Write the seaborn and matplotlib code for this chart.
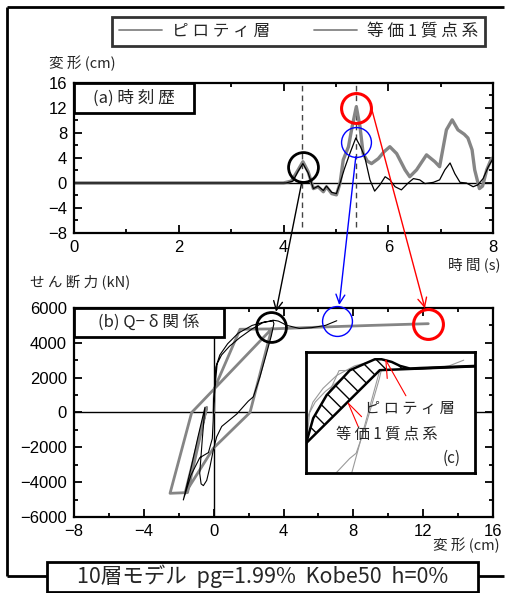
import numpy as np
import matplotlib
matplotlib.use("Agg")
import matplotlib.pyplot as plt
import seaborn as sns
from matplotlib.patches import Rectangle, ConnectionPatch
from matplotlib.lines import Line2D
from matplotlib.ticker import MultipleLocator

# ---------------- data ----------------
# (a) time history  [s], [cm]
time_sdof = [0, 4.0, 4.15, 4.28, 4.37, 4.47, 4.57, 4.66, 4.76, 4.82, 4.92, 5.01, 5.08, 5.14,
             5.24, 5.31, 5.39, 5.46, 5.52, 5.6, 5.68, 5.81, 5.92, 6.03, 6.16, 6.32, 6.41,
             6.54, 6.73, 6.89, 6.98, 7.11, 7.22, 7.33, 7.45, 7.52, 7.6, 7.65, 7.74, 7.8,
             7.88, 7.97, 8.0]
disp_sdof = [0, 0, 0.3, 2.1, 3.4, 1.8, -0.9, -0.6, -1.4, -0.6, -1.7, -1.9, 0.0, 3.7,
             5.8, 9.0, 12.2, 9.0, 4.7, 3.5, 3.1, 3.9, 5.0, 5.8, 4.7, 2.1, 1.0,
             2.1, 4.5, 3.4, 2.6, 8.5, 10.1, 8.5, 7.8, 7.2, 5.3, 2.1, -0.9, -0.5,
             2.1, 3.9, 4.0]
time_pil = [0, 4.05, 4.18, 4.28, 4.37, 4.47, 4.57, 4.66, 4.76, 4.82, 4.92, 5.01, 5.08,
            5.16, 5.27, 5.38, 5.47, 5.55, 5.65, 5.74, 5.84, 5.94, 6.03, 6.13, 6.25, 6.38,
            6.48, 6.6, 6.7, 6.86, 6.98, 7.08, 7.18, 7.27, 7.37, 7.49, 7.62, 7.71, 7.81,
            7.91, 8.0]
disp_pil = [0, 0, 0.3, 1.9, 3.1, 1.6, -0.9, -0.5, -1.2, -0.5, -1.5, -1.7, 0.0,
            2.2, 4.8, 7.2, 5.8, 4.2, 0.5, -1.3, -0.3, 1.0, 0.5, -0.6, -1.1, 0.0,
            0.7, 0.5, -0.1, 0.1, 0.5, 2.1, 3.2, 1.5, 0.1, 0.0, -0.6, -0.3, 0.7,
            2.6, 3.9]
peak_times = [4.36, 5.39]

# (b) Q-delta  [cm], [kN]
hyst_sdof_d = [0, 0.05, 1.51, 3.32, 2.08, -0.02, -1.64, -0.40, -1.50, -2.50, -1.26, 3.32, 6.0, 9.0, 12.29]
hyst_sdof_q = [0, 1400, 4780, 4800, 0, -2055, -4640, 300, -4600, -4640, 0, 4800, 4900, 5000, 5100]
hyst_pil_d = [0, 0.03, 0.12, 0.35, 0.8, 1.4, 2.2, 2.9, 3.4, 3.45, 3.3, 3.0, 2.65, 2.27, 1.98,
              1.32, 0.46, 0.17, -0.02, -0.21, -0.4, -0.59, -0.72, -0.8, -0.65, -0.5, -0.9,
              -1.3, -1.74, -1.3, -0.8, -0.3, -0.08, -0.03, 0.0, 0.08, 0.2, 0.45, 0.9, 1.5,
              2.2, 2.8, 3.4, 3.7, 4.2, 4.9, 5.6, 6.4, 7.05]
hyst_pil_q = [0, 1200, 2600, 3300, 3950, 4550, 5000, 5200, 5250, 5100, 4400, 3300, 2050, 900, 650,
              -90, -800, -1400, -2150, -3100, -3900, -4200, -4100, -3500, -1500, 300, -1400,
              -3200, -5024, -3600, -2600, -2300, -1500, -500, 500, 1500, 2800, 3300, 3800, 4300,
              4800, 5150, 5300, 5250, 5000, 4830, 4870, 5000, 5270]

# (c) inset highlighted curves
inset_sdof_d = [-1.26, 3.32, 7.6]
inset_sdof_q = [0, 4800, 4980]
inset_pil_d = [0.07, 0.36, 0.96, 1.99, 3.10, 3.40, 3.85, 4.22, 4.66, 5.1, 7.6]
inset_pil_q = [1449, 2541, 3630, 4795, 5311, 5311, 5186, 5000, 4875, 4900, 5000]
hatch_end = 5.1

# circles marking the peaks
circ_a = {"black": (4.37, 2.6), "blue": (5.39, 6.6), "red": (5.38, 12.0)}
circ_b = {"black": (3.28, 4926), "blue": (7.05, 5254), "red": (12.29, 5064)}
circ_lw = {"black": 2.0, "blue": 1.0, "red": 2.2}
# connecting arrows: start in (a) coords, end in (b) coords
arrows = {"black": ((4.35, 0.2), (3.57, 5788)),
          "blue": ((5.38, 4.2), (7.19, 6172)),
          "red": ((5.68, 11.95), (12.10, 5983))}

legend_labels = ["ピ ロ テ ィ 層", "等 価 1 質 点 系"]
title_text = "10層モデル  pg=1.99%  Kobe50  h=0%"

# ---------------- style ----------------
sns.set_style("ticks")
plt.rcParams["font.family"] = ["Noto Sans CJK JP", "DejaVu Sans"]
plt.rcParams["axes.linewidth"] = 1.6
plt.rcParams["axes.edgecolor"] = "black"
GRAY = "#858585"
NUMFONT = ["Liberation Sans Narrow", "Liberation Sans", "DejaVu Sans"]

fig = plt.figure(figsize=(5.14, 5.93), dpi=100)
ax_a = fig.add_axes([0.1440, 0.6071, 0.8152, 0.2530])
ax_b = fig.add_axes([0.1440, 0.1282, 0.8152, 0.3524])
ax_c = fig.add_axes([0.5953, 0.2024, 0.3288, 0.2040])
ax_c.set_zorder(3)


def style_ticks(ax):
    ax.tick_params(which="both", direction="in", top=True, right=True, width=1.3,
                   labelsize=12, pad=5, colors="black")
    ax.tick_params(which="major", length=6)
    ax.tick_params(which="minor", length=3)
    for lbl in ax.get_xticklabels() + ax.get_yticklabels():
        lbl.set_fontfamily(NUMFONT)


# ---------------- (a) time history ----------------
ax_a.axhline(0, color="black", lw=1.0, zorder=1)
ax_a.vlines(peak_times, -7, 16, colors="#444444", linestyles=(0, (4, 3)), lw=1.0, zorder=1)
sns.lineplot(x=time_sdof, y=disp_sdof, sort=False, estimator=None, ax=ax_a,
             color=GRAY, lw=2.4, zorder=2)
sns.lineplot(x=time_pil, y=disp_pil, sort=False, estimator=None, ax=ax_a,
             color="black", lw=0.9, zorder=3)
ax_a.set_xlim(0, 8)
ax_a.set_ylim(-8, 16)
ax_a.set_xticks([0, 2, 4, 6, 8])
ax_a.set_yticks([-8, -4, 0, 4, 8, 12, 16])
ax_a.xaxis.set_minor_locator(MultipleLocator(1))
ax_a.yaxis.set_minor_locator(MultipleLocator(2))
ax_a.set_xlabel("")
ax_a.set_ylabel("")
style_ticks(ax_a)
ax_a.add_patch(Rectangle((0, 0.8), 0.2864, 0.2, transform=ax_a.transAxes,
                         facecolor="white", edgecolor="black", lw=2, zorder=6))
ax_a.text(0.1432, 0.9, "(a) 時 刻 歴", transform=ax_a.transAxes, ha="center", va="center",
          fontsize=12, zorder=7)
for c, (x, y) in circ_a.items():
    ax_a.plot([x], [y], marker="o", ms=21.5, mfc="none", mec=c, mew=circ_lw[c], zorder=8)

# ---------------- (b) Q-delta ----------------
ax_b.axhline(0, color="black", lw=1.0, zorder=1)
ax_b.axvline(0, color="black", lw=1.0, zorder=1)
sns.lineplot(x=hyst_sdof_d, y=hyst_sdof_q, sort=False, estimator=None, ax=ax_b,
             color=GRAY, lw=2.0, zorder=2)
sns.lineplot(x=hyst_pil_d, y=hyst_pil_q, sort=False, estimator=None, ax=ax_b,
             color="black", lw=0.8, zorder=3)
ax_b.set_xlim(-8, 16)
ax_b.set_ylim(-6000, 6000)
ax_b.set_xticks([-8, -4, 0, 4, 8, 12, 16])
ax_b.set_yticks([-6000, -4000, -2000, 0, 2000, 4000, 6000])
ax_b.xaxis.set_minor_locator(MultipleLocator(2))
ax_b.yaxis.set_minor_locator(MultipleLocator(1000))
ax_b.set_xlabel("")
ax_b.set_ylabel("")
style_ticks(ax_b)
ax_b.add_patch(Rectangle((0, 0.861), 0.358, 0.139, transform=ax_b.transAxes,
                         facecolor="white", edgecolor="black", lw=2, zorder=6))
ax_b.text(0.179, 0.93, "(b) Q− δ 関 係", transform=ax_b.transAxes, ha="center", va="center",
          fontsize=12, zorder=7)
for c, (x, y) in circ_b.items():
    ax_b.plot([x], [y], marker="o", ms=21.5, mfc="none", mec=c, mew=circ_lw[c],
              zorder=8, clip_on=False)

# ---------------- (c) inset ----------------
ax_c.set_facecolor("white")
sns.lineplot(x=hyst_sdof_d, y=hyst_sdof_q, sort=False, estimator=None, ax=ax_c,
             color="#9a9a9a", lw=0.8, zorder=1)
sns.lineplot(x=hyst_pil_d, y=hyst_pil_q, sort=False, estimator=None, ax=ax_c,
             color="#9a9a9a", lw=0.8, zorder=1)
hd = [d for d in inset_pil_d if d <= hatch_end]
hq = inset_pil_q[:len(hd)]
back_d = [hatch_end] + [d for d in inset_sdof_d[::-1] if hd[0] < d < hatch_end] + [hd[0]]
back_q = list(np.interp(back_d, inset_sdof_d, inset_sdof_q))
ax_c.fill(hd + back_d, hq + back_q, facecolor="white", edgecolor="black",
          hatch="\\\\", lw=0, zorder=2)
sns.lineplot(x=inset_sdof_d, y=inset_sdof_q, sort=False, estimator=None, ax=ax_c,
             color="black", lw=1.8, zorder=3)
sns.lineplot(x=inset_pil_d, y=inset_pil_q, sort=False, estimator=None, ax=ax_c,
             color="black", lw=1.8, zorder=3)
ax_c.set_xlim(0.04, 7.55)
ax_c.set_ylim(-28, 5652)
ax_c.set_xticks([])
ax_c.set_yticks([])
ax_c.set_xlabel("")
ax_c.set_ylabel("")
for s in ax_c.spines.values():
    s.set_linewidth(2)
for apex, tails in [((3.59, 5264), [(4.48, 3597), (3.65, 4410)]),
                    ((1.92, 3243), [(2.36, 2149), (2.51, 2616)])]:
    for t in tails:
        ax_c.plot([apex[0], t[0]], [apex[1], t[1]], color="red", lw=0.8, zorder=4)
ax_c.text(0.615, 0.535, "ピ ロ テ ィ 層", transform=ax_c.transAxes, ha="center", va="center",
          fontsize=11, zorder=5)
ax_c.text(0.481, 0.321, "等 価 1 質 点 系", transform=ax_c.transAxes, ha="center", va="center",
          fontsize=11, zorder=5)
ax_c.text(0.862, 0.123, "(c)", transform=ax_c.transAxes, ha="center", va="center",
          fontsize=11, zorder=5)

# ---------------- arrows between panels ----------------
for c, (pa, pb) in arrows.items():
    con = ConnectionPatch(xyA=pa, coordsA=ax_a.transData, xyB=pb, coordsB=ax_b.transData,
                          arrowstyle="->", mutation_scale=16, color=c, lw=1.0, zorder=10)
    fig.add_artist(con)

# ---------------- labels ----------------
fig.text(0.0953, 0.8938, "変 形 (cm)", ha="left", va="center", fontsize=10.5)
fig.text(0.9728, 0.5531, "時 間 (s)", ha="right", va="center", fontsize=10.5)
fig.text(0.058, 0.5228, "せ ん 断 力 (kN)", ha="left", va="center", fontsize=10.5)
fig.text(0.9728, 0.0809, "変 形 (cm)", ha="right", va="center", fontsize=10.5)

# legend
handles = [Line2D([], [], color=GRAY, lw=1.3), Line2D([], [], color=GRAY, lw=1.3)]
leg = fig.legend(handles, legend_labels, ncol=2, loc="center",
                 bbox_to_anchor=(0.2023, 0.9207, 0.7568, 0.0523), mode="expand",
                 frameon=True, fancybox=False, edgecolor="black", fontsize=12,
                 handlelength=2.6, handletextpad=0.6, borderpad=0.38, columnspacing=1.5)
leg.get_frame().set_linewidth(2)

# outer frame (open on the right) and title box
fx0, fx1, fy0, fy1 = 0.0136, 0.98, 0.0287, 0.9882
fig.add_artist(Line2D([fx0, fx1], [fy1, fy1], transform=fig.transFigure,
                      color="black", lw=2, zorder=0.5, solid_capstyle="butt"))
fig.add_artist(Line2D([fx0, fx0], [fy0, fy1], transform=fig.transFigure,
                      color="black", lw=2, zorder=0.5, solid_capstyle="butt"))
fig.add_artist(Line2D([fx0, fx1], [fy0, fy0], transform=fig.transFigure,
                      color="black", lw=2, zorder=0.5, solid_capstyle="butt"))
fig.add_artist(Rectangle((0.0914, 0.0025), 0.8385, 0.0506, transform=fig.transFigure,
                         facecolor="white", edgecolor="black", lw=2, zorder=3))
fig.text(0.5107, 0.0275, title_text, ha="center", va="center", fontsize=15.5, zorder=4)

fig.savefig("out.png", dpi=100, facecolor="white")
